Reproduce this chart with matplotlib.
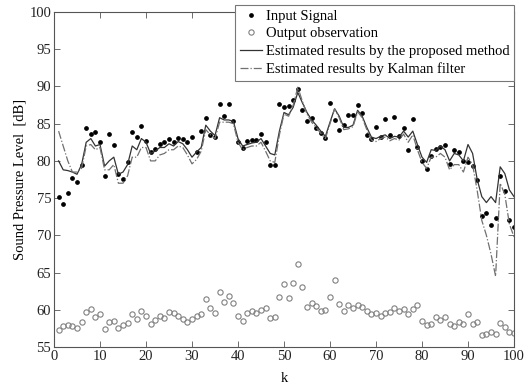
import numpy as np
import matplotlib
matplotlib.use("Agg")
import matplotlib.pyplot as plt

plt.rcParams['font.family'] = ['Liberation Serif', 'DejaVu Serif']
plt.rcParams['font.size'] = 10.5

k = np.arange(1, 101)

# input signal (black dots)
input_signal = [
    75.1, 74.2, 75.7, 77.7, 77.1, 79.5, 84.4, 83.6, 83.9, 82.5,
    78.0, 83.6, 82.1, 78.3, 77.6, 79.9, 83.9, 83.2, 84.7, 82.7,
    81.2, 81.6, 82.3, 82.5, 83.0, 82.6, 83.1, 82.9, 82.5, 83.2,
    81.2, 84.0, 85.8, 83.5, 83.2, 87.6, 86.0, 87.7, 85.3, 82.5,
    81.7, 82.7, 82.8, 82.8, 83.6, 82.6, 79.5, 79.4, 87.6, 87.2,
    87.4, 88.2, 89.6, 86.9, 85.3, 85.7, 84.4, 83.7, 83.1, 87.8,
    85.5, 84.2, 84.8, 86.1, 86.1, 87.5, 86.5, 83.5, 82.9, 84.6,
    83.2, 85.6, 83.5, 85.9, 83.3, 84.4, 81.4, 85.6, 81.9, 80.0,
    78.9, 80.6, 81.6, 81.8, 82.1, 79.6, 81.4, 81.2, 80.0, 79.8,
    79.3, 77.5, 72.6, 73.0, 71.4, 72.3, 78.0, 75.9, 72.0, 71.1,
]

# output observation (grey open circles)
output_obs = [
    57.3, 57.8, 57.9, 57.8, 57.6, 58.3, 59.7, 60.1, 59.0, 59.4,
    57.4, 58.4, 58.5, 57.5, 57.9, 58.2, 59.4, 58.8, 59.9, 59.2,
    58.1, 58.6, 59.1, 58.9, 59.7, 59.6, 59.1, 58.8, 58.3, 58.8,
    59.2, 59.4, 61.5, 60.2, 59.6, 62.4, 61.0, 61.8, 60.9, 59.1,
    58.5, 59.6, 59.9, 59.6, 60.0, 60.3, 58.9, 59.0, 61.7, 63.4,
    61.6, 63.6, 66.1, 63.0, 60.4, 60.9, 60.5, 59.9, 60.0, 61.7,
    64.0, 60.8, 59.9, 60.6, 60.2, 60.7, 60.4, 59.8, 59.4, 59.6,
    59.2, 59.6, 59.7, 60.2, 59.9, 60.1, 59.4, 60.1, 60.6, 58.5,
    58.0, 58.1, 59.0, 58.6, 59.0, 58.1, 57.8, 58.4, 58.1, 59.4,
    58.1, 58.3, 56.6, 56.8, 57.0, 56.8, 58.2, 57.7, 57.0, 56.9,
]

# estimated results by the proposed method (solid)
proposed = [
    80.0, 78.8, 78.7, 78.5, 78.2, 79.5, 82.5, 83.0, 82.0, 82.2,
    79.3, 80.0, 80.5, 78.2, 78.5, 79.5, 82.0, 81.5, 83.0, 82.5,
    81.0, 81.3, 81.8, 81.8, 82.3, 82.0, 82.6, 82.3, 81.5, 80.5,
    81.2, 81.8, 84.8, 84.0, 83.4, 85.8, 85.5, 85.5, 85.3, 83.0,
    82.0, 82.2, 82.4, 82.5, 83.0, 82.0, 81.0, 80.8, 84.0, 86.5,
    86.2, 87.2, 89.2, 87.8, 86.5, 85.5, 84.8, 84.0, 83.3, 85.2,
    87.0, 86.0, 84.5, 84.5, 84.8, 86.8, 86.0, 84.5, 83.2, 83.0,
    83.3, 83.5, 83.0, 83.3, 83.2, 84.0, 83.2, 84.0, 82.2, 80.5,
    79.8, 81.5, 81.4, 82.0, 81.5, 80.0, 81.0, 80.8, 80.0, 82.2,
    81.0, 77.5, 75.2, 74.4, 75.2, 74.4, 79.2, 78.3, 76.1, 75.2,
]

# estimated results by Kalman filter (dash-dot)
kalman = [
    84.0, 82.0, 80.0, 78.5, 78.5, 79.0, 82.0, 82.2, 81.5, 81.8,
    78.8, 78.8, 79.5, 77.0, 77.0, 78.0, 80.5, 80.5, 81.8, 81.8,
    80.0, 80.0, 80.8, 81.0, 81.5, 81.5, 82.0, 81.8, 80.8, 79.6,
    80.2, 81.3, 84.2, 83.5, 83.0, 85.2, 85.2, 85.2, 85.0, 82.5,
    81.5, 81.8, 82.0, 82.0, 82.5, 81.3, 80.0, 79.8, 83.5, 86.3,
    86.0, 87.5, 89.9, 88.0, 86.3, 85.2, 84.5, 83.7, 83.0, 85.0,
    87.0, 85.8, 84.2, 84.3, 84.6, 86.6, 85.8, 84.2, 82.8, 82.6,
    83.0, 83.2, 82.7, 83.0, 82.8, 83.6, 82.5, 83.5, 81.5, 79.8,
    79.0, 80.5, 80.5, 81.0, 80.5, 78.8, 79.5, 79.5, 78.5, 80.5,
    79.5, 76.0, 72.0, 70.0, 67.5, 64.5, 77.0, 75.5, 71.5, 69.8,
]

fig = plt.figure(figsize=(5.31, 3.87), dpi=100)
ax = fig.add_axes([54 / 531, 1 - 347 / 387, 460 / 531, 335 / 387])

ax.plot(k, input_signal, linestyle='none', marker='o', markersize=2.4,
        color='black', label='Input Signal')
ax.plot(k, output_obs, linestyle='none', marker='o', markersize=3.8,
        markerfacecolor='none', markeredgecolor='#808080', markeredgewidth=0.8,
        label='Output observation')
ax.plot(k, proposed, '-', color='#333333', linewidth=0.9,
        label='Estimated results by the proposed method')
ax.plot(k, kalman, '-.', color='#707070', linewidth=0.9,
        label='Estimated results by Kalman filter')

ax.set_xlim(0, 100)
ax.set_ylim(55, 100)
ax.set_xticks(np.arange(0, 101, 10))
ax.set_yticks(np.arange(55, 101, 5))
ax.tick_params(direction='in', top=True, right=True, length=4, width=0.6,
               colors='#555555', labelcolor='#222222', labelsize=10.5, pad=2)
for s in ax.spines.values():
    s.set_color('#555555')
    s.set_linewidth(0.8)

ax.set_xlabel('k', fontsize=10.5, labelpad=7)
ax.set_ylabel('Sound Pressure Level  [dB]', fontsize=10.5, labelpad=2)

leg = ax.legend(loc='upper right', bbox_to_anchor=(1.0, 1.02), fontsize=10.5,
                frameon=True, fancybox=False, edgecolor='#777777',
                handlelength=1.5, handletextpad=0.3, borderpad=0.3,
                labelspacing=0.3, borderaxespad=0, framealpha=1)
leg.get_frame().set_linewidth(0.8)

fig.savefig('out.png', dpi=100)
